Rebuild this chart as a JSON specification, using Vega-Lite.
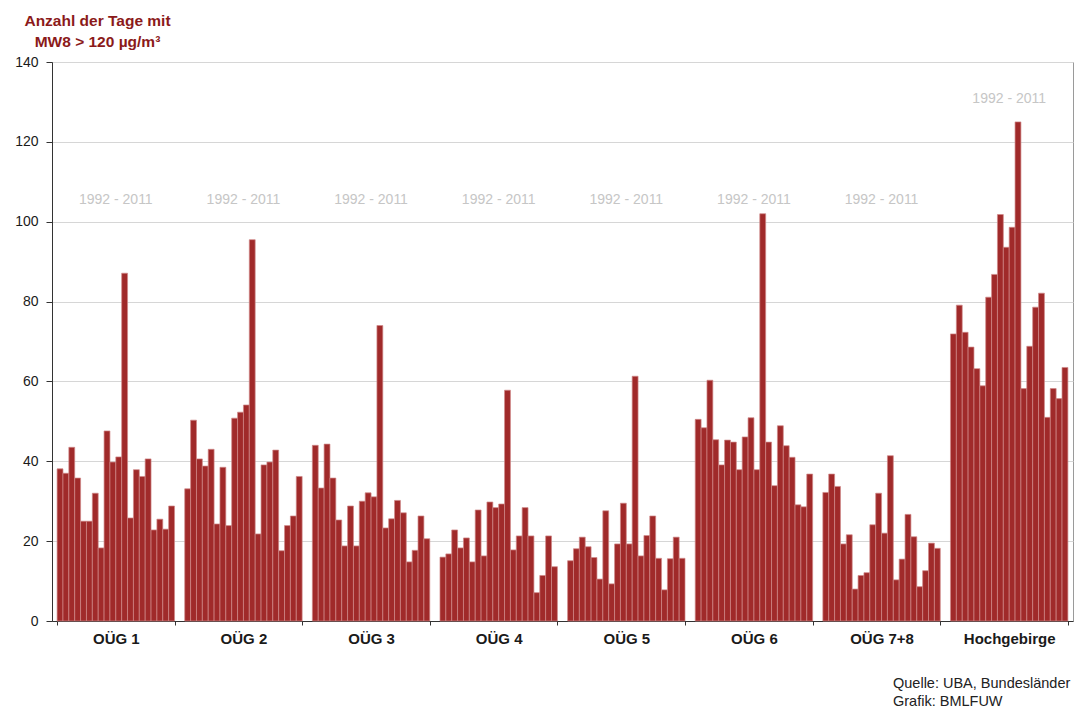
{
  "$schema": "https://vega.github.io/schema/vega-lite/v6.json",
  "width": 1021,
  "height": 559,
  "autosize": {"type": "none"},
  "padding": {"left": 52, "top": 62, "right": 5, "bottom": 87},
  "background": "white",
  "config": {
    "font": "Liberation Sans",
    "view": {"stroke": "#9a9a9a", "strokeWidth": 1}
  },
  "title": {
    "text": ["Quelle: UBA, Bundesländer", "Grafik: BMLFUW"],
    "orient": "bottom",
    "anchor": "start",
    "frame": "group",
    "align": "left",
    "baseline": "top",
    "dx": 841,
    "offset": 31,
    "fontSize": 14.5,
    "fontWeight": "normal",
    "color": "#222222",
    "lineHeight": 18
  },
  "datasets": {
    "bars": [
      {"g":"OÜG 1","j":1992,"v":38.1},{"g":"OÜG 1","j":1993,"v":37},{"g":"OÜG 1","j":1994,"v":43.5},{"g":"OÜG 1","j":1995,"v":35.8},{"g":"OÜG 1","j":1996,"v":25},{"g":"OÜG 1","j":1997,"v":25},{"g":"OÜG 1","j":1998,"v":32},{"g":"OÜG 1","j":1999,"v":18.3},{"g":"OÜG 1","j":2000,"v":47.6},{"g":"OÜG 1","j":2001,"v":39.8},{"g":"OÜG 1","j":2002,"v":41.1},{"g":"OÜG 1","j":2003,"v":87.1},{"g":"OÜG 1","j":2004,"v":25.8},{"g":"OÜG 1","j":2005,"v":37.9},{"g":"OÜG 1","j":2006,"v":36.2},{"g":"OÜG 1","j":2007,"v":40.6},{"g":"OÜG 1","j":2008,"v":22.8},{"g":"OÜG 1","j":2009,"v":25.5},{"g":"OÜG 1","j":2010,"v":23},{"g":"OÜG 1","j":2011,"v":28.8},
      {"g":"OÜG 2","j":1992,"v":33.1},{"g":"OÜG 2","j":1993,"v":50.3},{"g":"OÜG 2","j":1994,"v":40.6},{"g":"OÜG 2","j":1995,"v":38.8},{"g":"OÜG 2","j":1996,"v":43},{"g":"OÜG 2","j":1997,"v":24.3},{"g":"OÜG 2","j":1998,"v":38.5},{"g":"OÜG 2","j":1999,"v":23.9},{"g":"OÜG 2","j":2000,"v":50.8},{"g":"OÜG 2","j":2001,"v":52.3},{"g":"OÜG 2","j":2002,"v":54.1},{"g":"OÜG 2","j":2003,"v":95.5},{"g":"OÜG 2","j":2004,"v":21.8},{"g":"OÜG 2","j":2005,"v":39.1},{"g":"OÜG 2","j":2006,"v":39.8},{"g":"OÜG 2","j":2007,"v":42.8},{"g":"OÜG 2","j":2008,"v":17.6},{"g":"OÜG 2","j":2009,"v":23.9},{"g":"OÜG 2","j":2010,"v":26.3},{"g":"OÜG 2","j":2011,"v":36.2},
      {"g":"OÜG 3","j":1992,"v":44},{"g":"OÜG 3","j":1993,"v":33.3},{"g":"OÜG 3","j":1994,"v":44.3},{"g":"OÜG 3","j":1995,"v":35.8},{"g":"OÜG 3","j":1996,"v":25.3},{"g":"OÜG 3","j":1997,"v":18.8},{"g":"OÜG 3","j":1998,"v":28.8},{"g":"OÜG 3","j":1999,"v":18.8},{"g":"OÜG 3","j":2000,"v":30},{"g":"OÜG 3","j":2001,"v":32.1},{"g":"OÜG 3","j":2002,"v":31.1},{"g":"OÜG 3","j":2003,"v":74},{"g":"OÜG 3","j":2004,"v":23.3},{"g":"OÜG 3","j":2005,"v":25.6},{"g":"OÜG 3","j":2006,"v":30.2},{"g":"OÜG 3","j":2007,"v":27.1},{"g":"OÜG 3","j":2008,"v":14.8},{"g":"OÜG 3","j":2009,"v":17.7},{"g":"OÜG 3","j":2010,"v":26.3},{"g":"OÜG 3","j":2011,"v":20.6},
      {"g":"OÜG 4","j":1992,"v":16},{"g":"OÜG 4","j":1993,"v":16.8},{"g":"OÜG 4","j":1994,"v":22.8},{"g":"OÜG 4","j":1995,"v":18.3},{"g":"OÜG 4","j":1996,"v":20.8},{"g":"OÜG 4","j":1997,"v":14.8},{"g":"OÜG 4","j":1998,"v":27.8},{"g":"OÜG 4","j":1999,"v":16.3},{"g":"OÜG 4","j":2000,"v":29.8},{"g":"OÜG 4","j":2001,"v":28.4},{"g":"OÜG 4","j":2002,"v":29.3},{"g":"OÜG 4","j":2003,"v":57.8},{"g":"OÜG 4","j":2004,"v":17.8},{"g":"OÜG 4","j":2005,"v":21.3},{"g":"OÜG 4","j":2006,"v":28.4},{"g":"OÜG 4","j":2007,"v":21.3},{"g":"OÜG 4","j":2008,"v":7.1},{"g":"OÜG 4","j":2009,"v":11.4},{"g":"OÜG 4","j":2010,"v":21.3},{"g":"OÜG 4","j":2011,"v":13.6},
      {"g":"OÜG 5","j":1992,"v":15.1},{"g":"OÜG 5","j":1993,"v":18.1},{"g":"OÜG 5","j":1994,"v":21},{"g":"OÜG 5","j":1995,"v":18.6},{"g":"OÜG 5","j":1996,"v":15.9},{"g":"OÜG 5","j":1997,"v":10.5},{"g":"OÜG 5","j":1998,"v":27.6},{"g":"OÜG 5","j":1999,"v":9.3},{"g":"OÜG 5","j":2000,"v":19.3},{"g":"OÜG 5","j":2001,"v":29.5},{"g":"OÜG 5","j":2002,"v":19.3},{"g":"OÜG 5","j":2003,"v":61.3},{"g":"OÜG 5","j":2004,"v":16.3},{"g":"OÜG 5","j":2005,"v":21.4},{"g":"OÜG 5","j":2006,"v":26.3},{"g":"OÜG 5","j":2007,"v":15.7},{"g":"OÜG 5","j":2008,"v":7.8},{"g":"OÜG 5","j":2009,"v":15.6},{"g":"OÜG 5","j":2010,"v":21},{"g":"OÜG 5","j":2011,"v":15.7},
      {"g":"OÜG 6","j":1992,"v":50.5},{"g":"OÜG 6","j":1993,"v":48.4},{"g":"OÜG 6","j":1994,"v":60.3},{"g":"OÜG 6","j":1995,"v":45.4},{"g":"OÜG 6","j":1996,"v":39.1},{"g":"OÜG 6","j":1997,"v":45.3},{"g":"OÜG 6","j":1998,"v":44.8},{"g":"OÜG 6","j":1999,"v":37.9},{"g":"OÜG 6","j":2000,"v":46.1},{"g":"OÜG 6","j":2001,"v":50.9},{"g":"OÜG 6","j":2002,"v":37.9},{"g":"OÜG 6","j":2003,"v":102},{"g":"OÜG 6","j":2004,"v":44.8},{"g":"OÜG 6","j":2005,"v":33.9},{"g":"OÜG 6","j":2006,"v":48.9},{"g":"OÜG 6","j":2007,"v":43.9},{"g":"OÜG 6","j":2008,"v":41},{"g":"OÜG 6","j":2009,"v":29.1},{"g":"OÜG 6","j":2010,"v":28.6},{"g":"OÜG 6","j":2011,"v":36.8},
      {"g":"OÜG 7+8","j":1992,"v":32.2},{"g":"OÜG 7+8","j":1993,"v":36.8},{"g":"OÜG 7+8","j":1994,"v":33.7},{"g":"OÜG 7+8","j":1995,"v":19.3},{"g":"OÜG 7+8","j":1996,"v":21.6},{"g":"OÜG 7+8","j":1997,"v":8},{"g":"OÜG 7+8","j":1998,"v":11.4},{"g":"OÜG 7+8","j":1999,"v":12.1},{"g":"OÜG 7+8","j":2000,"v":24.1},{"g":"OÜG 7+8","j":2001,"v":32},{"g":"OÜG 7+8","j":2002,"v":22},{"g":"OÜG 7+8","j":2003,"v":41.4},{"g":"OÜG 7+8","j":2004,"v":10.3},{"g":"OÜG 7+8","j":2005,"v":15.5},{"g":"OÜG 7+8","j":2006,"v":26.7},{"g":"OÜG 7+8","j":2007,"v":21.1},{"g":"OÜG 7+8","j":2008,"v":8.6},{"g":"OÜG 7+8","j":2009,"v":12.6},{"g":"OÜG 7+8","j":2010,"v":19.5},{"g":"OÜG 7+8","j":2011,"v":18.2},
      {"g":"Hochgebirge","j":1992,"v":71.9},{"g":"Hochgebirge","j":1993,"v":79.1},{"g":"Hochgebirge","j":1994,"v":72.3},{"g":"Hochgebirge","j":1995,"v":68.6},{"g":"Hochgebirge","j":1996,"v":63.2},{"g":"Hochgebirge","j":1997,"v":58.9},{"g":"Hochgebirge","j":1998,"v":81.1},{"g":"Hochgebirge","j":1999,"v":86.8},{"g":"Hochgebirge","j":2000,"v":101.8},{"g":"Hochgebirge","j":2001,"v":93.6},{"g":"Hochgebirge","j":2002,"v":98.6},{"g":"Hochgebirge","j":2003,"v":125},{"g":"Hochgebirge","j":2004,"v":58.2},{"g":"Hochgebirge","j":2005,"v":68.8},{"g":"Hochgebirge","j":2006,"v":78.6},{"g":"Hochgebirge","j":2007,"v":82.1},{"g":"Hochgebirge","j":2008,"v":51},{"g":"Hochgebirge","j":2009,"v":58.2},{"g":"Hochgebirge","j":2010,"v":55.7},{"g":"Hochgebirge","j":2011,"v":63.5}
    ],
    "notes": [
      {"g":"OÜG 1","t":"1992 - 2011","y":105.4},
      {"g":"OÜG 2","t":"1992 - 2011","y":105.4},
      {"g":"OÜG 3","t":"1992 - 2011","y":105.4},
      {"g":"OÜG 4","t":"1992 - 2011","y":105.4},
      {"g":"OÜG 5","t":"1992 - 2011","y":105.4},
      {"g":"OÜG 6","t":"1992 - 2011","y":105.4},
      {"g":"OÜG 7+8","t":"1992 - 2011","y":105.4},
      {"g":"Hochgebirge","t":"1992 - 2011","y":130.7}
    ]
  },
  "encoding": {
    "x": {
      "field": "g",
      "type": "nominal",
      "sort": ["OÜG 1","OÜG 2","OÜG 3","OÜG 4","OÜG 5","OÜG 6","OÜG 7+8","Hochgebirge"],
      "scale": {"paddingInner": 0.08, "paddingOuter": 0.04},
      "axis": {
        "title": null,
        "labelAngle": 0,
        "labelFontSize": 15,
        "labelFontWeight": "bold",
        "labelColor": "#1a1a1a",
        "labelPadding": 6,
        "tickBand": "extent",
        "tickSize": 4,
        "tickColor": "#333333",
        "domainColor": "#333333",
        "grid": false
      }
    }
  },
  "layer": [
    {
      "data": {"name": "bars"},
      "mark": {"type": "bar", "fill": "#a02a2a", "stroke": "#d08888", "strokeWidth": 0.7},
      "encoding": {
        "xOffset": {"field": "j", "type": "ordinal", "scale": {"paddingInner": 0, "paddingOuter": 0}},
        "y": {
          "field": "v",
          "type": "quantitative",
          "scale": {"domain": [0, 140], "nice": false},
          "axis": {
            "values": [0, 20, 40, 60, 80, 100, 120, 140],
            "title": ["Anzahl der Tage mit", "MW8 > 120 µg/m³"],
            "titleAngle": 0,
            "titleAlign": "center",
            "titleBaseline": "alphabetic",
            "titleX": 45,
            "titleY": -37,
            "titleLineHeight": 21,
            "titleFontSize": 15.5,
            "titleFontWeight": "bold",
            "titleColor": "#8b1a1a",
            "labelFontSize": 14,
            "labelColor": "#1a1a1a",
            "labelPadding": 8,
            "tickSize": 6,
            "tickColor": "#333333",
            "domainColor": "#333333",
            "gridColor": "#d6d6d6",
            "gridWidth": 1
          }
        }
      }
    },
    {
      "data": {"name": "notes"},
      "mark": {"type": "text", "fontSize": 14, "color": "#c6c6c6", "align": "center", "baseline": "middle"},
      "encoding": {
        "y": {"field": "y", "type": "quantitative"},
        "text": {"field": "t"}
      }
    }
  ]
}
